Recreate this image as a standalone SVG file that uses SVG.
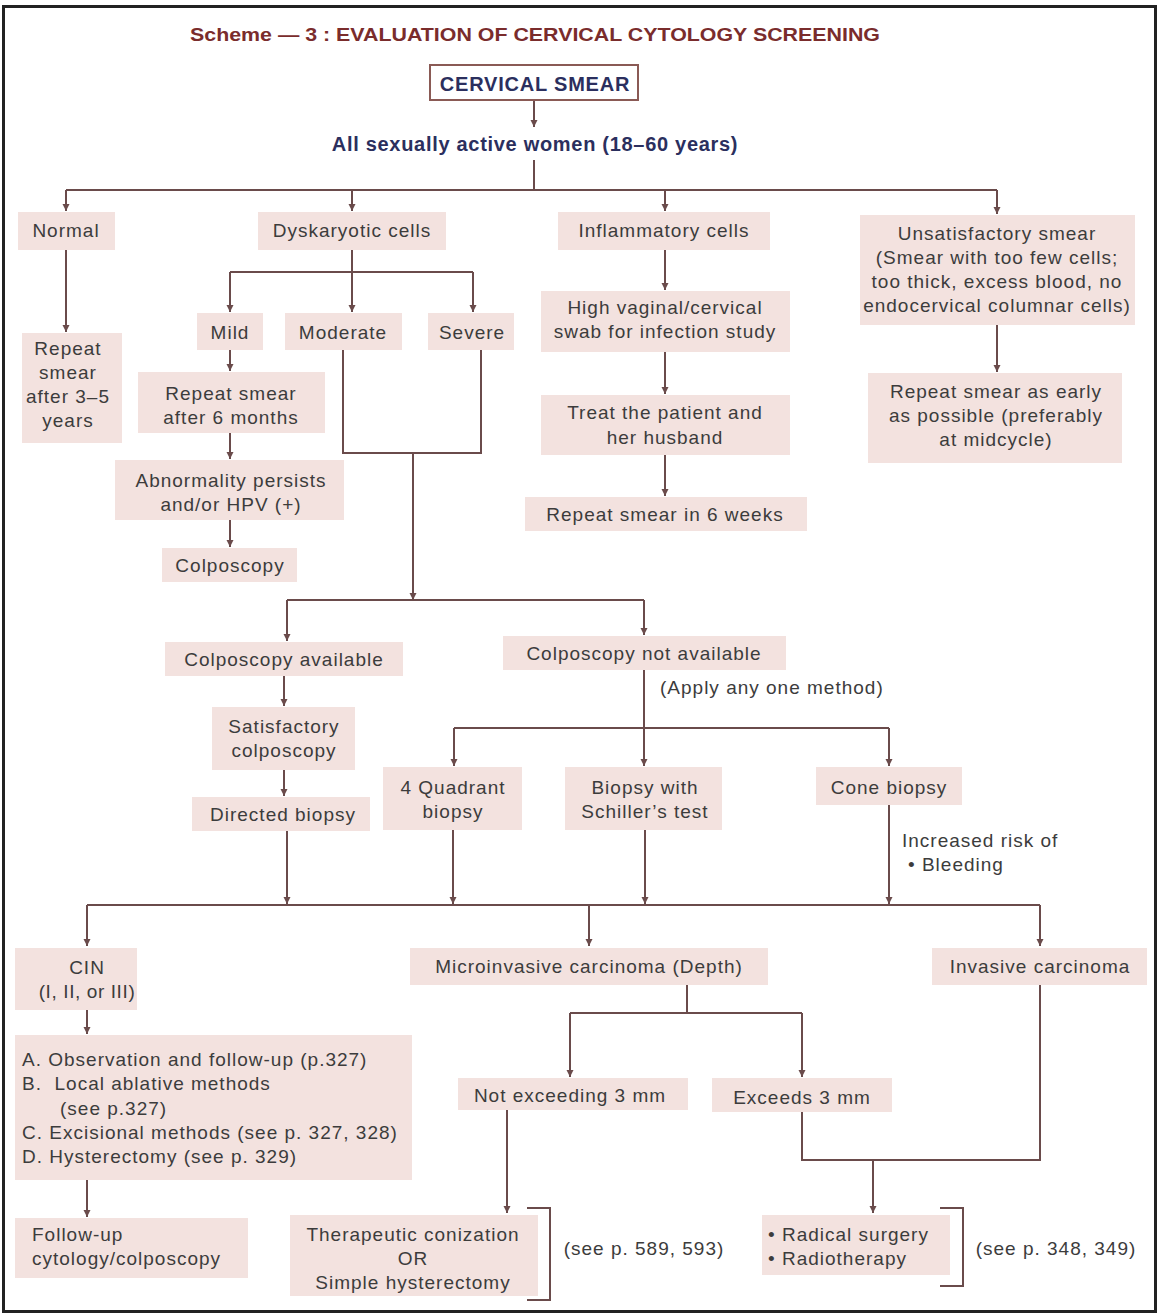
<svg xmlns="http://www.w3.org/2000/svg" width="1160" height="1315" viewBox="0 0 1160 1315">
<defs>
<marker id="ah" markerWidth="8" markerHeight="8" refX="7" refY="4" orient="auto" markerUnits="userSpaceOnUse">
<path d="M0,0.5 L7,4 L0,7.5 z" fill="#6a4b4b"/>
</marker>
<style>
.b{fill:#f3e2df}
.t{font-family:"Liberation Sans",Arial,sans-serif;font-size:19px;fill:#3c3c3c;text-anchor:middle;letter-spacing:1px}
.l{text-anchor:start}
.c path{fill:none;stroke:#6a4b4b;stroke-width:2}
.a{marker-end:url(#ah)}
</style>
</defs>
<rect x="0" y="0" width="1160" height="1315" fill="#ffffff"/>
<rect x="3.5" y="6.5" width="1152" height="1305" fill="none" stroke="#222" stroke-width="3"/>

<g id="title">
<text x="535" y="41" class="t" style="font-weight:bold;fill:#7a2c2c;font-size:19px;letter-spacing:0" textLength="690" lengthAdjust="spacingAndGlyphs">Scheme — 3 : EVALUATION OF CERVICAL CYTOLOGY SCREENING</text>
</g>

<g id="connectors" class="c">
<path class="a" d="M534,100 V127"/>
<path d="M534,160 V190 M66,190 H997"/>
<path class="a" d="M66,190 V211"/>
<path class="a" d="M352,190 V211"/>
<path class="a" d="M665,190 V211"/>
<path class="a" d="M997,190 V214"/>
<path class="a" d="M66,250 V332"/>
<path d="M352,250 V272 M230,272 H473"/>
<path class="a" d="M230,272 V312"/>
<path class="a" d="M352,272 V312"/>
<path class="a" d="M473,272 V312"/>
<path class="a" d="M230,350 V371"/>
<path class="a" d="M230,433 V459"/>
<path class="a" d="M230,520 V547"/>
<path d="M343,350 V453 H481 V350"/>
<path class="a" d="M413,453 V600"/>
<path d="M287,600 H644"/>
<path class="a" d="M287,600 V641"/>
<path class="a" d="M644,600 V635"/>
<path class="a" d="M665,250 V290"/>
<path class="a" d="M665,352 V394"/>
<path class="a" d="M665,455 V496"/>
<path class="a" d="M997,325 V372"/>
<path class="a" d="M284,676 V706"/>
<path class="a" d="M284,770 V796"/>
<path class="a" d="M287,831 V904"/>
<path class="a" d="M644,670 V766"/>
<path d="M454,728 H889"/>
<path class="a" d="M454,728 V766"/>
<path class="a" d="M889,728 V766"/>
<path class="a" d="M453,830 V904"/>
<path class="a" d="M645,830 V904"/>
<path class="a" d="M889,805 V904"/>
<path d="M87,905 H1040"/>
<path class="a" d="M87,905 V946"/>
<path class="a" d="M589,905 V946"/>
<path class="a" d="M1040,905 V946"/>
<path class="a" d="M87,1010 V1034"/>
<path class="a" d="M87,1180 V1217"/>
<path d="M687,985 V1013 M570,1013 H802"/>
<path class="a" d="M570,1013 V1077"/>
<path class="a" d="M802,1013 V1077"/>
<path class="a" d="M507,1110 V1213"/>
<path d="M802,1110 V1160 H1040 V985"/>
<path class="a" d="M873,1160 V1213"/>
<path d="M527,1208 H550 V1300 H527"/>
<path d="M940,1208 H963 V1286 H940"/>
</g>

<g id="n-smear">
<rect x="430" y="65" width="208" height="35" fill="#fff" stroke="#8a5a55" stroke-width="2"/>
<text x="535" y="91" class="t" style="font-weight:bold;fill:#2b2f5e;font-size:20px;letter-spacing:0.8px">CERVICAL SMEAR</text>
</g>
<g id="n-women">
<text x="535" y="151" class="t" style="font-weight:bold;fill:#2b2f5e;font-size:20px;letter-spacing:0.7px">All sexually active women (18–60 years)</text>
</g>

<g id="n-normal"><rect class="b" x="18" y="212" width="97" height="38"/><text class="t" x="66" y="237">Normal</text></g>
<g id="n-dysk"><rect class="b" x="258" y="212" width="188" height="38"/><text class="t" x="352" y="237">Dyskaryotic cells</text></g>
<g id="n-inflam"><rect class="b" x="558" y="212" width="212" height="38"/><text class="t" x="664" y="237">Inflammatory cells</text></g>
<g id="n-unsat"><rect class="b" x="860" y="215" width="275" height="110"/>
<text class="t" x="997" y="240">Unsatisfactory smear</text>
<text class="t" x="997" y="264">(Smear with too few cells;</text>
<text class="t" x="997" y="288">too thick, excess blood, no</text>
<text class="t" x="997" y="312">endocervical columnar cells)</text></g>

<g id="n-repeat35"><rect class="b" x="22" y="333" width="100" height="110"/>
<text class="t" x="68" y="355">Repeat</text>
<text class="t" x="68" y="379">smear</text>
<text class="t" x="68" y="403">after 3–5</text>
<text class="t" x="68" y="427">years</text></g>

<g id="n-mild"><rect class="b" x="197" y="313" width="66" height="37"/><text class="t" x="230" y="339">Mild</text></g>
<g id="n-moderate"><rect class="b" x="285" y="313" width="117" height="37"/><text class="t" x="343" y="339">Moderate</text></g>
<g id="n-severe"><rect class="b" x="428" y="313" width="86" height="37"/><text class="t" x="472" y="339">Severe</text></g>

<g id="n-repeat6m"><rect class="b" x="138" y="372" width="187" height="61"/>
<text class="t" x="231" y="400">Repeat smear</text>
<text class="t" x="231" y="424">after 6 months</text></g>
<g id="n-abn"><rect class="b" x="115" y="460" width="229" height="60"/>
<text class="t" x="231" y="487">Abnormality persists</text>
<text class="t" x="231" y="511">and/or HPV (+)</text></g>
<g id="n-colpo"><rect class="b" x="162" y="548" width="135" height="34"/><text class="t" x="230" y="572">Colposcopy</text></g>

<g id="n-hvs"><rect class="b" x="541" y="291" width="249" height="61"/>
<text class="t" x="665" y="314">High vaginal/cervical</text>
<text class="t" x="665" y="338">swab for infection study</text></g>
<g id="n-treat"><rect class="b" x="541" y="395" width="249" height="60"/>
<text class="t" x="665" y="419">Treat the patient and</text>
<text class="t" x="665" y="444">her husband</text></g>
<g id="n-rep6w"><rect class="b" x="525" y="497" width="282" height="34"/><text class="t" x="665" y="521">Repeat smear in 6 weeks</text></g>

<g id="n-repearly"><rect class="b" x="868" y="373" width="254" height="90"/>
<text class="t" x="996" y="398">Repeat smear as early</text>
<text class="t" x="996" y="422">as possible (preferably</text>
<text class="t" x="996" y="446">at midcycle)</text></g>

<g id="n-cavail"><rect class="b" x="165" y="642" width="238" height="34"/><text class="t" x="284" y="666">Colposcopy available</text></g>
<g id="n-cnot"><rect class="b" x="503" y="636" width="283" height="34"/><text class="t" x="644" y="660">Colposcopy not available</text></g>
<g id="n-apply"><text class="t l" x="660" y="694">(Apply any one method)</text></g>

<g id="n-satis"><rect class="b" x="212" y="707" width="143" height="63"/>
<text class="t" x="284" y="733">Satisfactory</text>
<text class="t" x="284" y="757">colposcopy</text></g>
<g id="n-directed"><rect class="b" x="192" y="797" width="178" height="34"/><text class="t" x="283" y="821">Directed biopsy</text></g>

<g id="n-4q"><rect class="b" x="383" y="767" width="139" height="63"/>
<text class="t" x="453" y="794">4 Quadrant</text>
<text class="t" x="453" y="818">biopsy</text></g>
<g id="n-schiller"><rect class="b" x="565" y="767" width="157" height="63"/>
<text class="t" x="645" y="794">Biopsy with</text>
<text class="t" x="645" y="818">Schiller’s test</text></g>
<g id="n-cone"><rect class="b" x="816" y="767" width="146" height="38"/><text class="t" x="889" y="794">Cone biopsy</text></g>
<g id="n-risk">
<text class="t l" x="902" y="847">Increased risk of</text>
<text class="t l" x="908" y="871">• Bleeding</text></g>

<g id="n-cin"><rect class="b" x="15" y="948" width="122" height="62"/>
<text class="t" x="87" y="974">CIN</text>
<text class="t" x="87" y="998" style="letter-spacing:0.6px">(I, II, or III)</text></g>
<g id="n-micro"><rect class="b" x="410" y="948" width="358" height="37"/><text class="t" x="589" y="973">Microinvasive carcinoma (Depth)</text></g>
<g id="n-invasive"><rect class="b" x="932" y="948" width="215" height="37"/><text class="t" x="1040" y="973">Invasive carcinoma</text></g>

<g id="n-cintx"><rect class="b" x="15" y="1035" width="397" height="145"/>
<text class="t l" x="22" y="1066">A. Observation and follow-up (p.327)</text>
<text class="t l" x="22" y="1090" xml:space="preserve">B.  Local ablative methods</text>
<text class="t l" x="60" y="1115">(see p.327)</text>
<text class="t l" x="22" y="1139">C. Excisional methods (see p. 327, 328)</text>
<text class="t l" x="22" y="1163">D. Hysterectomy (see p. 329)</text></g>
<g id="n-followup"><rect class="b" x="15" y="1218" width="233" height="60"/>
<text class="t l" x="32" y="1241">Follow-up</text>
<text class="t l" x="32" y="1265">cytology/colposcopy</text></g>

<g id="n-notexc"><rect class="b" x="458" y="1078" width="230" height="32"/><text class="t" x="570" y="1102">Not exceeding 3 mm</text></g>
<g id="n-exc"><rect class="b" x="712" y="1078" width="180" height="34"/><text class="t" x="802" y="1104">Exceeds 3 mm</text></g>

<g id="n-conization"><rect class="b" x="290" y="1215" width="248" height="81"/>
<text class="t" x="413" y="1241">Therapeutic conization</text>
<text class="t" x="413" y="1265">OR</text>
<text class="t" x="413" y="1289">Simple hysterectomy</text></g>
<g id="n-ref1"><text class="t" x="644" y="1255">(see p. 589, 593)</text></g>

<g id="n-radical"><rect class="b" x="762" y="1215" width="188" height="60"/>
<text class="t l" x="768" y="1241">• Radical surgery</text>
<text class="t l" x="768" y="1265">• Radiotherapy</text></g>
<g id="n-ref2"><text class="t" x="1056" y="1255">(see p. 348, 349)</text></g>
</svg>
